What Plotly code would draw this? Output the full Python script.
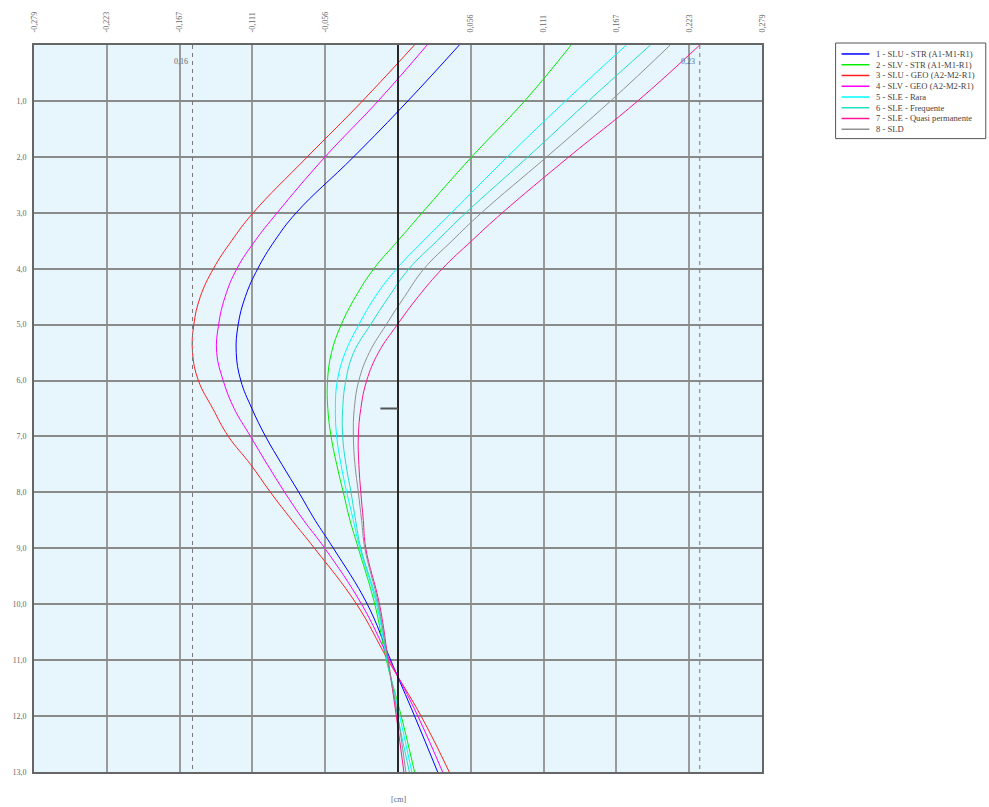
import plotly.graph_objects as go

# ---------------- data ----------------
depth = [0, 1, 2, 3, 3.5, 4, 4.5, 5, 5.5, 6, 6.5, 7, 7.5, 8, 8.5, 9, 10, 11, 12, 13]

names = [
    "1 - SLU - STR (A1-M1-R1)",
    "2 - SLV - STR (A1-M1-R1)",
    "3 - SLU - GEO (A2-M2-R1)",
    "4 - SLV - GEO (A2-M2-R1)",
    "5 - SLE - Rara",
    "6 - SLE - Frequente",
    "7 - SLE - Quasi permanente",
    "8 - SLD",
]
colors = ["#0000FF", "#00EE00", "#FF2020", "#FF00FF", "#00FFFF", "#20E0C8", "#FF1493", "#909090"]

slu_str = [0.047, 0.0076, -0.034, -0.078, -0.0945, -0.1075, -0.117, -0.1225, -0.124, -0.1205, -0.112,
           -0.1015, -0.089, -0.076, -0.0635, -0.0495, -0.0235, -0.0056, 0.0127, 0.0304]
slv_str = [0.1327, 0.0971, 0.0565, 0.0185, 0.0, -0.0185, -0.0325, -0.0435, -0.051, -0.054, -0.0538,
           -0.0513, -0.047, -0.0419, -0.0368, -0.0304, -0.0178, -0.0089, 0.0025, 0.0127]
slu_geo = [0.0126, -0.0272, -0.0695, -0.111, -0.1275, -0.1415, -0.1515, -0.1565, -0.1575, -0.153, -0.142,
           -0.130, -0.113, -0.0977, -0.0812, -0.064, -0.0317, -0.0076, 0.0177, 0.0393]
slv_geo = [0.0223, -0.0152, -0.0559, -0.0926, -0.1095, -0.1235, -0.1325, -0.1375, -0.139, -0.134, -0.1256,
           -0.113, -0.1002, -0.0868, -0.0723, -0.0561, -0.0279, -0.0064, 0.0152, 0.0342]
sle_rara = [0.175, 0.1285, 0.0838, 0.041, 0.0195, -0.001, -0.0175, -0.030, -0.0405, -0.0465, -0.048,
            -0.047, -0.0437, -0.0393, -0.0342, -0.0292, -0.0165, -0.0084, 0.0013, 0.0106]
sle_freq = [0.1935, 0.146, 0.0996, 0.052, 0.030, 0.0085, -0.007, -0.021, -0.034, -0.040, -0.0424,
            -0.0424, -0.0399, -0.036, -0.0325, -0.0285, -0.0157, -0.0081, -0.0003, 0.0087]
sle_qp = [0.2313, 0.1838, 0.131, 0.080, 0.0565, 0.034, 0.0155, -0.0005, -0.015, -0.024, -0.0285,
          -0.0304, -0.030, -0.0285, -0.0266, -0.0247, -0.0142, -0.0075, -0.0013, 0.0045]
sld = [0.2087, 0.163, 0.114, 0.064, 0.0415, 0.020, 0.005, -0.009, -0.022, -0.030, -0.0335,
       -0.0342, -0.033, -0.0304, -0.0279, -0.0254, -0.015, -0.0078, -0.0002, 0.006]

series = [slu_str, slv_str, slu_geo, slv_geo, sle_rara, sle_freq, sle_qp, sld]

x_tickvals = [-0.279, -0.2232, -0.1674, -0.1116, -0.0558, 0, 0.0558, 0.1116, 0.1674, 0.2232, 0.279]
x_ticktext = ["-0,279", "-0,223", "-0,167", "-0,111", "-0,056", "", "0,056", "0,111", "0,167", "0,223", "0,279"]
y_tickvals = list(range(1, 14))
y_ticktext = [f"{v},0" for v in y_tickvals]

anchor_depth = 6.5
anchor_len = -0.0135

# ---------------- figure ----------------
W, H = 989, 807
L, R, T, B = 30, 762, 42, 772
FONT = "Liberation Serif"
TXT = "#666666"

fig = go.Figure()
for nm, col, vals in zip(names, colors, series):
    fig.add_trace(go.Scatter(x=vals, y=depth, mode="lines", name=nm, showlegend=False,
                             line=dict(color=col, width=1, shape="spline", smoothing=1.2)))

# zero line
fig.add_shape(type="line", x0=0, x1=0, y0=0, y1=13, xref="x", yref="y",
              line=dict(color="black", width=1.5), layer="above")
# anchor marker
fig.add_shape(type="line", x0=anchor_len, x1=0, y0=anchor_depth, y1=anchor_depth, xref="x", yref="y",
              line=dict(color="#555555", width=2))

# min/max dashed lines
all_vals = [v for s in series for v in s]
vmin, vmax = min(all_vals), max(all_vals)
for v in (vmin, vmax):
    fig.add_shape(type="line", x0=v, x1=v, y0=0, y1=13, xref="x", yref="y",
                  line=dict(color="#777777", width=1, dash="4px,4px"))
    fig.add_annotation(x=v, y=0.29, xref="x", yref="y", text=f"{abs(v):.2f}".replace(".", ","),
                       showarrow=False, xanchor="right", yanchor="middle", xshift=-3,
                       font=dict(family=FONT, size=8, color="#5a6a80"))

fig.add_annotation(x=0, y=-0.038, xref="x", yref="paper", text="[cm]", showarrow=False,
                   font=dict(family=FONT, size=8, color="#5a6a80"), yanchor="middle")

# manual legend
pw, ph = R - L, B - T
def px2x(px):
    return (px - L) / pw
def py2y(py):
    return (B - py) / ph

fig.add_shape(type="rect", xref="paper", yref="paper",
              x0=px2x(836), x1=px2x(987), y0=py2y(40), y1=py2y(136),
              line=dict(color="#555555", width=1), fillcolor="white")
for i, (nm, col) in enumerate(zip(names, colors)):
    yy = py2y(51 + i * 10.8)
    fig.add_shape(type="line", xref="paper", yref="paper", x0=px2x(842), x1=px2x(870), y0=yy, y1=yy,
                  line=dict(color=col, width=1.5))
    fig.add_annotation(xref="paper", yref="paper", x=px2x(875), y=yy, text=nm, showarrow=False,
                       xanchor="left", yanchor="middle",
                       font=dict(family=FONT, size=8.6, color="#444444"))

fig.update_layout(
    width=W, height=H,
    margin=dict(l=L, r=W - R, t=T, b=H - B, pad=0),
    paper_bgcolor="white",
    plot_bgcolor="#E6F6FC",
    showlegend=False,
    xaxis=dict(range=[-0.279, 0.279], side="top", tickvals=x_tickvals, ticktext=x_ticktext,
               tickangle=-90, tickfont=dict(family=FONT, size=8, color=TXT),
               showgrid=True, gridcolor="#9a9a9a", gridwidth=1.5, zeroline=False,
               showline=True, linecolor="#666666", linewidth=2, mirror=True,
               ticks="", ticklabelstandoff=9),
    yaxis=dict(range=[13, 0], tickvals=y_tickvals, ticktext=y_ticktext,
               tickfont=dict(family=FONT, size=8, color=TXT),
               showgrid=True, gridcolor="#8a8a8a", gridwidth=1.5, zeroline=False,
               showline=True, linecolor="#666666", linewidth=2, mirror=True,
               ticks="", ticklabelstandoff=4),
)

fig.write_html("out.html", config={"displayModeBar": False},
               post_script="document.body.style.margin='0px';document.body.style.overflow='hidden';")
